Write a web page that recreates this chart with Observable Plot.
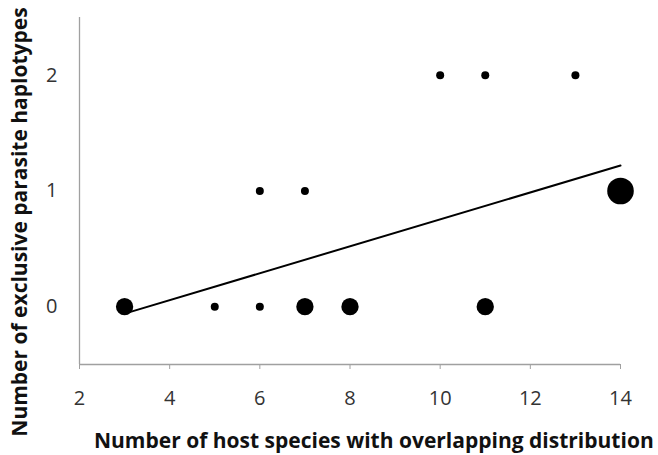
<!DOCTYPE html>
<html><head><meta charset="utf-8">
<script src="https://cdn.jsdelivr.net/npm/d3@7"></script>
<script src="https://cdn.jsdelivr.net/npm/@observablehq/plot@0.6"></script>
<style>body{margin:0;background:#fff}</style>
</head><body><div id="chart"></div>
<script>
const hostSpecies = [3, 5, 6, 7, 8, 11, 6, 7, 14, 10, 11, 13];
const haplotypes  = [0, 0, 0, 0, 0, 0, 1, 1, 1, 2, 2, 2];
const counts      = [2, 1, 1, 2, 2, 2, 1, 1, 3, 1, 1, 1];
const trendX = [3, 14];
const trendY = [-0.06, 1.22];
const xTicks = [2, 4, 6, 8, 10, 12, 14];
const yTicks = [0, 1, 2];
const xLabel = "Number of host species with overlapping distribution";
const yLabel = "Number of exclusive parasite haplotypes";

const pts = hostSpecies.map((x, i) => ({x, y: haplotypes[i], n: counts[i]}));
const trend = trendX.map((x, i) => ({x, y: trendY[i]}));
const font = "'Open Sans', sans-serif";

const chart = Plot.plot({
  width: 658, height: 455,
  marginLeft: 79, marginRight: 38, marginTop: 17, marginBottom: 91,
  style: {fontFamily: font, fontSize: "20px", color: "#333", background: "#fff", overflow: "hidden"},
  x: {domain: [2, 14], ticks: xTicks},
  y: {domain: [-0.5, 2.5], ticks: yTicks},
  r: {type: "linear", domain: [1, 3], range: [4, 13.3]},
  marks: [
    Plot.ruleX([2], {y1: -0.5, y2: 2.5, stroke: "#a0a0a0", strokeWidth: 1.3}),
    Plot.ruleY([-0.5], {x1: 2, x2: 14, stroke: "#a0a0a0", strokeWidth: 1.3}),
    Plot.axisX({ticks: xTicks, tickSize: 5, tickPadding: 21, label: null, stroke: "#a0a0a0", fontSize: 20, fill: "#333", tickFormat: "d"}),
    Plot.axisY({ticks: yTicks, tickSize: 0, tickPadding: 22, label: null, fontSize: 20, fill: "#333", tickFormat: "d"}),
    Plot.line(trend, {x: "x", y: "y", stroke: "#000", strokeWidth: 2}),
    Plot.dot(pts, {x: "x", y: "y", r: "n", fill: "#000"}),
    Plot.text([xLabel], {frameAnchor: "bottom", text: d => d, textAnchor: "start", lineAnchor: "middle", dx: -256, dy: 77, fontWeight: "bold", fontSize: 21, fill: "#111"}),
    Plot.text([yLabel], {frameAnchor: "left", text: d => d, textAnchor: "middle", lineAnchor: "middle", rotate: -90, dx: -59, dy: 31, fontWeight: "bold", fontSize: 21, fill: "#111"})
  ]
});
document.getElementById("chart").appendChild(chart);
</script>
</body></html>
